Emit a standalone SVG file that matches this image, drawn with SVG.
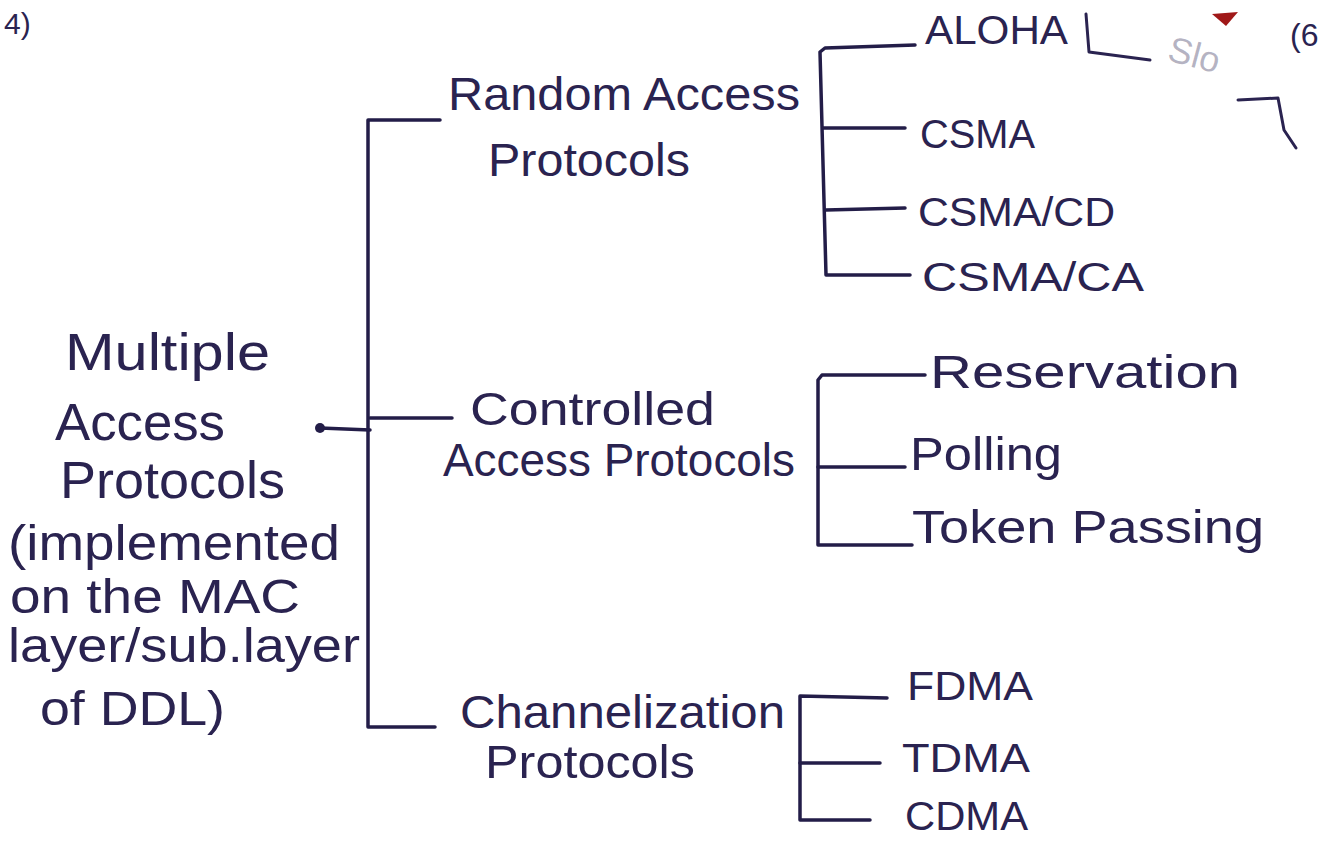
<svg xmlns="http://www.w3.org/2000/svg" width="1329" height="841" viewBox="0 0 1329 841">
<style>
.t{font-family:"Liberation Sans",Arial,sans-serif;fill:#2a2350;font-size:46px;}
.s{font-size:40px;}
.c{fill:none;stroke:#231d48;stroke-width:3.5;stroke-linecap:round;stroke-linejoin:round;}
.f{fill:none;stroke:#2a2350;stroke-width:3;stroke-linecap:round;stroke-linejoin:round;}
</style>
<rect width="1329" height="841" fill="#ffffff"/>
<g id="connectors">
<circle cx="320" cy="428" r="5" fill="#231d48"/>
<path class="c" d="M320,428 L370,430"/>
<path class="c" d="M440,120 L368,120 L368,727 L435,727"/>
<path class="c" d="M370,418 L452,418"/>
<path class="c" d="M915,45 L825,48 L820,52 L826,275 L910,275"/>
<path class="c" d="M823,128 L905,128"/>
<path class="c" d="M826,210 L905,208"/>
<path class="c" d="M925,375 L822,375 L818,380 L818,545 L912,545"/>
<path class="c" d="M818,467 L905,467"/>
<path class="c" d="M887,698 L800,696 L800,820 L870,820"/>
<path class="c" d="M800,763 L880,763"/>
</g>
<g id="root"><text class="t" style="font-size:52px" x="65" y="370" textLength="205" lengthAdjust="spacingAndGlyphs">Multiple</text>
<text class="t" style="font-size:52px" x="55" y="440" textLength="170" lengthAdjust="spacingAndGlyphs">Access</text>
<text class="t" style="font-size:52px" x="60" y="498" textLength="225" lengthAdjust="spacingAndGlyphs">Protocols</text>
<text class="t" style="font-size:50px" x="8" y="560" textLength="332" lengthAdjust="spacingAndGlyphs">(implemented</text>
<text class="t" style="font-size:48px" x="10" y="613" textLength="290" lengthAdjust="spacingAndGlyphs">on the MAC</text>
<text class="t" style="font-size:48px" x="8" y="662" textLength="352" lengthAdjust="spacingAndGlyphs">layer/sub.layer</text>
<text class="t" style="font-size:48px" x="40" y="725" textLength="185" lengthAdjust="spacingAndGlyphs">of DDL)</text></g>
<g id="random"><text class="t" x="448" y="110" textLength="352" lengthAdjust="spacingAndGlyphs">Random Access</text>
<text class="t" x="488" y="176" textLength="202" lengthAdjust="spacingAndGlyphs">Protocols</text></g>
<g id="controlled"><text class="t" x="470" y="425" textLength="245" lengthAdjust="spacingAndGlyphs">Controlled</text>
<text class="t" x="443" y="476" textLength="352" lengthAdjust="spacingAndGlyphs">Access Protocols</text></g>
<g id="channel"><text class="t" x="460" y="728" textLength="325" lengthAdjust="spacingAndGlyphs">Channelization</text>
<text class="t" x="485" y="778" textLength="210" lengthAdjust="spacingAndGlyphs">Protocols</text></g>
<g id="aloha"><text class="t s" x="925" y="44" textLength="143" lengthAdjust="spacingAndGlyphs">ALOHA</text>
<path class="f" d="M1086,14 L1089,52 L1150,60"/>
<text class="t" style="font-size:36px" fill-opacity="0.35" x="1166" y="60" transform="rotate(15 1166 60)">Slo</text>
<path class="f" d="M1238,100 L1278,98 L1284,130 L1296,148"/>
<polygon points="1212,14 1238,12 1226,26" fill="#a01818"/></g>
<g id="csma"><text class="t s" x="920" y="148" textLength="115" lengthAdjust="spacingAndGlyphs">CSMA</text></g>
<g id="csmacd"><text class="t s" x="918" y="226" textLength="197" lengthAdjust="spacingAndGlyphs">CSMA/CD</text></g>
<g id="csmaca"><text class="t s" x="922" y="291" textLength="222" lengthAdjust="spacingAndGlyphs">CSMA/CA</text></g>
<g id="reservation"><text class="t" x="930" y="388" textLength="310" lengthAdjust="spacingAndGlyphs">Reservation</text></g>
<g id="polling"><text class="t" x="910" y="470" textLength="152" lengthAdjust="spacingAndGlyphs">Polling</text></g>
<g id="token"><text class="t" x="912" y="543" textLength="352" lengthAdjust="spacingAndGlyphs">Token Passing</text></g>
<g id="fdma"><text class="t s" x="907" y="700" textLength="126" lengthAdjust="spacingAndGlyphs">FDMA</text></g>
<g id="tdma"><text class="t s" x="902" y="772" textLength="128" lengthAdjust="spacingAndGlyphs">TDMA</text></g>
<g id="cdma"><text class="t s" x="905" y="830" textLength="123" lengthAdjust="spacingAndGlyphs">CDMA</text></g>
<g id="pagemarks"><text class="t" style="font-size:30px" x="4" y="34">4)</text>
<text class="t" style="font-size:32px" x="1290" y="46">(6</text></g>
</svg>
